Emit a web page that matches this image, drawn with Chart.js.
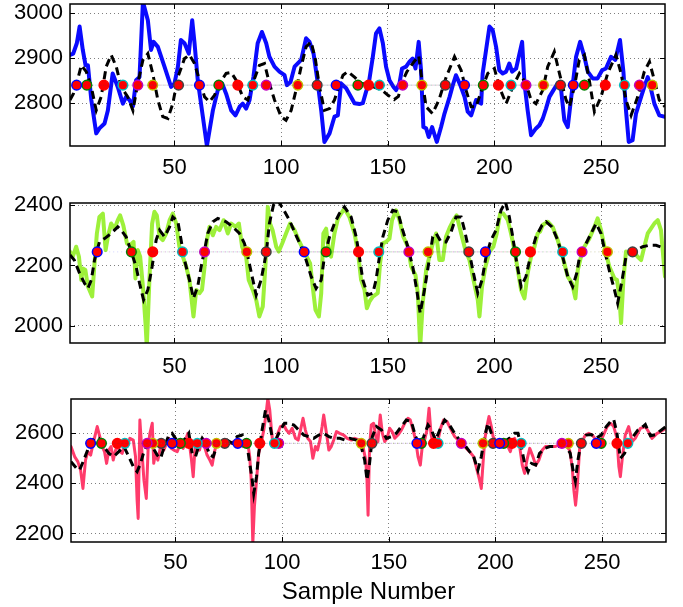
<!DOCTYPE html>
<html>
<head>
<meta charset="utf-8">
<title>Sample traces</title>
<script src="https://cdn.jsdelivr.net/npm/chart.js@4.4.1/dist/chart.umd.min.js"></script>
<style>
  html, body { margin: 0; padding: 0; background: #fff; }
  #wrap { position: relative; width: 683px; height: 607px; }
  #wrap canvas { position: absolute; left: 0; }
</style>
</head>
<body>
<div id="wrap">
  <canvas id="panelTop" width="683" height="190" style="top:0px"></canvas>
  <canvas id="panelMid" width="683" height="190" style="top:190px"></canvas>
  <canvas id="panelBot" width="683" height="227" style="top:380px"></canvas>
</div>
<script>
// shared sample axis
const xMin = 1;
const xMax = 280;
const xTicks = [50, 100, 150, 200, 250];

// --- top panel (blue) ---
const topTicks = [2800, 2900, 3000];
const topLineX = [
  1, 2.5, 4.2, 5.5, 7, 8.3, 9.4, 11, 13.3, 14.8,
  17.2, 18.75, 21, 23.4, 25.8, 27.3, 28.9, 30.5, 32, 33.6,
  35.2, 37.5, 39, 40.2, 42.2, 45.3, 48.4, 50, 51.6, 53,
  54.7, 56.7, 58.3, 59.4, 60.9, 63.3, 65.2, 68, 70.3, 72.3,
  74.2, 76.6, 78.6, 80.5, 82, 83.6, 85.2, 87, 89, 91,
  93, 94.5, 96.9, 99.2, 101.6, 102.7, 104.4, 106.3, 109.4, 111.7,
  113.3, 115.2, 117.2, 118.8, 120.3, 122.7, 125, 126.6, 128.1, 130.5,
  134.4, 136.7, 138.3, 139.8, 141.1, 143, 144.5, 146.1, 147.7, 149.2,
  150.8, 152.7, 153.9, 155.5, 156.7, 158.6, 160.2, 161.7, 163, 164.5,
  165.6, 166.7, 168, 169.2, 170.8, 173, 175, 176.6, 179, 180.5,
  182, 184, 186, 187.5, 189.1, 191.4, 193.8, 194.5, 196.1, 197.7,
  199.2, 200.8, 202.3, 203.9, 205.5, 207, 208.3, 210.2, 213, 214.1,
  215.6, 217.2, 219.5, 221.1, 222.7, 224.2, 225.8, 227.7, 229.7, 231.3,
  232.8, 234.4, 236.7, 238.3, 240.2, 242.2, 243.8, 246.1, 248.4, 250.5,
  252.3, 254.7, 256.7, 258.9, 260.5, 261.7, 263, 264.8, 266.4, 268.8,
  270.3, 271.9, 273, 275, 277.3, 280
];
const topLineY = [
  2907, 2910, 2933, 2970, 2918, 2884, 2884, 2807, 2733, 2744,
  2755, 2784, 2866, 2836, 2799, 2814, 2807, 2793, 2851, 2858,
  3025, 2984, 2918, 2936, 2925, 2881, 2836, 2844, 2881, 2940,
  2933, 2910, 2984, 2933, 2851, 2770, 2705, 2784, 2829, 2844,
  2821, 2784, 2773, 2792, 2799, 2788, 2807, 2858, 2933, 2958,
  2933, 2903, 2881, 2870, 2862, 2840, 2847, 2881, 2896, 2944,
  2936, 2910, 2844, 2784, 2714, 2733, 2770, 2773, 2844, 2833,
  2800, 2798, 2800, 2825, 2844, 2903, 2955, 2966, 2933, 2881,
  2851, 2836, 2829, 2844, 2877, 2881, 2892, 2899, 2877, 2936,
  2873, 2747, 2744, 2725, 2747, 2714, 2747, 2777, 2814, 2840,
  2862, 2840, 2814, 2781, 2773, 2807, 2799, 2866, 2918, 2970,
  2962, 2925, 2873, 2866, 2870, 2888, 2870, 2877, 2936, 2844,
  2784, 2729, 2744, 2751, 2766, 2788, 2814, 2829, 2844, 2829,
  2762, 2747, 2840, 2903, 2936, 2903, 2870, 2855, 2855, 2873,
  2877, 2903, 2896, 2940, 2870, 2784, 2714, 2718, 2777, 2814,
  2836, 2858, 2840, 2799, 2773, 2770
];
const topDashX = [
  1, 2.6, 4.9, 6.3, 8.6, 11, 13.3, 15.6, 18, 20.3,
  22.7, 25, 28.1, 30.5, 32.8, 35.2, 37.5, 39.8, 42.2, 44.5,
  46.9, 49.2, 51.6, 54.7, 57, 59.4, 61.7, 64.1, 66.4, 68.8,
  71.1, 74.2, 76.6, 78.9, 82, 84.4, 86.7, 89.8, 92.2, 94.5,
  96.9, 100, 102.3, 104.7, 107, 109.4, 111.7, 114.1, 116.1, 118,
  120.3, 122.7, 125, 127.3, 129, 131.2, 134.4, 137, 141, 147,
  150, 153, 155, 157, 159, 162, 164.5, 165.6, 168, 171,
  174, 177.4, 181.3, 184.4, 186.7, 189.1, 191.4, 194.5, 196.9, 200,
  202.3, 205.5, 208.6, 211.7, 214.8, 217.2, 219.5, 222.7, 225, 228.1,
  230.5, 233.6, 235.2, 237.5, 239.8, 242.2, 244.5, 246.9, 250, 253.1,
  257, 259.4, 261.7, 264.1, 267.2, 270.3, 272.7, 275, 277.3, 280
];
const topDashY = [
  2807, 2821, 2858, 2884, 2870, 2836, 2784, 2814, 2881, 2907,
  2881, 2836, 2814, 2784, 2844, 2896, 2910, 2866, 2807, 2770,
  2766, 2799, 2858, 2899, 2907, 2888, 2851, 2814, 2803, 2818,
  2844, 2866, 2868, 2851, 2814, 2807, 2844, 2884, 2888, 2844,
  2807, 2770, 2762, 2784, 2829, 2881, 2925, 2936, 2896, 2836,
  2784, 2788, 2807, 2840, 2862, 2870, 2858, 2845, 2840, 2830,
  2818, 2808, 2815, 2850, 2870, 2890, 2905, 2866, 2792, 2777,
  2807, 2858, 2903, 2873, 2829, 2792, 2792, 2836, 2866, 2877,
  2836, 2799, 2836, 2866, 2844, 2807, 2799, 2829, 2881, 2914,
  2866, 2807, 2792, 2836, 2896, 2907, 2851, 2781, 2814, 2866,
  2907, 2866, 2807, 2773, 2814, 2870, 2892, 2851, 2807, 2792
];
const topDotX = [
  4.1, 8.9, 16.9, 25.8, 32.8, 39.8, 51.9, 61.7, 70.8, 79.7,
  86.7, 93, 107.8, 116.9, 125.8, 136, 141, 146.1, 157, 166,
  177, 186, 194.8, 201.9, 207.8, 214.8, 223, 231, 237, 242.2,
  252, 261, 268, 274
];
const topDotLevel = 2840;

// --- middle panel (green) ---
const midTicks = [2000, 2200, 2400];
const midLineX = [
  1, 2.3, 3.9, 5.2, 6.3, 7, 8.2, 9.4, 11.4, 12.5,
  13.6, 14.8, 16.4, 17.7, 18.75, 20.3, 21.9, 23.4, 24.5, 26,
  27.7, 29.2, 30.8, 31.7, 32.8, 33.9, 35.2, 36.4, 37, 38.3,
  39.5, 40.6, 41.7, 43, 44.5, 46.1, 47.7, 49.2, 50.8, 52.3,
  53.9, 55.5, 57, 58.9, 60.2, 61.7, 62.9, 64.1, 65.2, 66.4,
  68, 69.5, 71.1, 73, 75, 76.6, 78.6, 80.2, 81.7, 83.6,
  84.8, 86.7, 88.3, 89.8, 91.4, 92.7, 93.75, 94.8, 96, 97.7,
  98.9, 100.5, 102.3, 104.2, 106.3, 108.6, 110.5, 112, 113.6, 114.8,
  116.1, 117.7, 118.8, 119.8, 121.1, 122.3, 123.4, 125, 126.6, 129.7,
  132, 134.4, 136, 137.5, 139.1, 140.2, 141.4, 143, 145.3, 146.4,
  147.7, 149.2, 150.8, 152, 153.9, 155.5, 157.3, 159.4, 161, 163,
  164.1, 165.2, 166.4, 168, 169.5, 171.1, 172.7, 174.2, 175.8, 177.3,
  179.2, 180.8, 182.3, 184.4, 186.4, 188.3, 190.2, 192.2, 193, 194.2,
  195.8, 197.7, 199.5, 201.1, 202.7, 204.2, 206.3, 207.8, 209.4, 211,
  212.5, 214.1, 215.6, 217.2, 218.8, 220.3, 221.4, 222.7, 225, 227.3,
  229.7, 232, 234.4, 236.4, 238, 239.1, 240.6, 242.2, 244.5, 246.9,
  248.4, 250, 251.6, 253.9, 256.3, 257.5, 258.6, 259.4, 260.5, 261.7,
  263.3, 265.2, 267.2, 268.8, 270.3, 271.9, 273.4, 275, 276.6, 278.1,
  280
];
const midLineY = [
  2246, 2229, 2262, 2229, 2152, 2190, 2185, 2130, 2097, 2207,
  2306, 2361, 2372, 2251, 2295, 2339, 2322, 2350, 2366, 2333,
  2273, 2267, 2278, 2157, 2251, 2229, 2130, 2009, 1930, 2163,
  2339, 2378, 2366, 2295, 2284, 2306, 2350, 2372, 2339, 2262,
  2229, 2196, 2152, 2031, 2119, 2108, 2119, 2196, 2284, 2328,
  2300, 2328, 2317, 2350, 2306, 2339, 2328, 2339, 2262, 2229,
  2152, 2119, 2086, 2031, 2064, 2207, 2394, 2339, 2317, 2262,
  2246, 2273, 2306, 2339, 2317, 2278, 2251, 2229, 2207, 2130,
  2053, 2031, 2108, 2306, 2322, 2251, 2229, 2306, 2355, 2389,
  2361, 2306, 2246, 2152, 2119, 2058, 2080, 2097, 2108, 2207,
  2273, 2278, 2289, 2350, 2383, 2350, 2295, 2262, 2196, 2168,
  2108, 1930, 2075, 2185, 2229, 2273, 2306, 2218, 2218, 2295,
  2328, 2350, 2366, 2306, 2251, 2218, 2152, 2086, 2031, 2130,
  2196, 2246, 2262, 2306, 2372, 2372, 2350, 2306, 2251, 2185,
  2119, 2091, 2174, 2229, 2262, 2306, 2312, 2334, 2345, 2328,
  2284, 2229, 2163, 2141, 2091, 2185, 2229, 2262, 2289, 2328,
  2356, 2317, 2262, 2196, 2157, 2152, 2097, 2009, 2152, 2246,
  2240, 2246, 2229, 2218, 2262, 2306, 2322, 2339, 2350, 2317,
  2163
];
const midDashX = [
  1, 3, 5.5, 7.8, 9.4, 11, 12.5, 14.8, 17.2, 20.3,
  23.4, 25, 27.3, 29.7, 32, 33.6, 35.5, 37.5, 39.5, 41.4,
  43, 45.3, 47.7, 49.2, 51.6, 53.1, 54.7, 57, 58.9, 60.9,
  62.5, 64.1, 65.6, 68, 70.3, 74.2, 77.3, 80.5, 82.8, 84.4,
  86.4, 88.3, 90.6, 93, 94.5, 96.4, 98.4, 100.8, 103.9, 107,
  109.4, 111.7, 114.1, 116.4, 118.8, 120.3, 122.7, 125, 127.3, 129.7,
  132.8, 135.2, 136.7, 138.3, 140.6, 143, 144.5, 146.1, 147.7, 150,
  152.3, 154.7, 157, 159.4, 161.7, 163.6, 165.2, 167.2, 169.2, 171.1,
  172.7, 175, 177.3, 179.7, 182, 184.4, 186, 188, 190.2, 192.2,
  194.2, 196.1, 198.4, 200.8, 203.1, 205.2, 207, 208.6, 210.5, 212.5,
  214.8, 217.2, 219.5, 222.4, 224.2, 227, 229.7, 232, 234.4, 236.7,
  238.6, 240.2, 243, 245.3, 247.7, 250, 252, 254.2, 256.3, 257.8,
  259.9, 261.7, 264.1, 266.4, 269.5, 272.7, 275.8, 280
];
const midDashY = [
  2235, 2218, 2174, 2141, 2124, 2152, 2218, 2278, 2289, 2306,
  2328, 2317, 2295, 2246, 2196, 2141, 2086, 2119, 2196, 2284,
  2317, 2295, 2328, 2361, 2345, 2284, 2218, 2152, 2091, 2130,
  2196, 2251, 2306, 2345, 2356, 2345, 2328, 2306, 2273, 2229,
  2163, 2102, 2152, 2240, 2339, 2400, 2416, 2389, 2350, 2300,
  2262, 2218, 2163, 2124, 2152, 2229, 2295, 2339, 2372, 2394,
  2361, 2295, 2229, 2152, 2102, 2108, 2152, 2229, 2295, 2350,
  2383, 2378, 2317, 2262, 2196, 2119, 2042, 2119, 2207, 2295,
  2306, 2278, 2278, 2311, 2361, 2361, 2317, 2251, 2174, 2108,
  2152, 2229, 2284, 2317, 2383, 2410, 2361, 2295, 2207, 2130,
  2163, 2240, 2295, 2334, 2345, 2328, 2284, 2229, 2163, 2130,
  2174, 2240, 2273, 2306, 2339, 2306, 2240, 2174, 2119, 2075,
  2152, 2229, 2240, 2251, 2262, 2267, 2267, 2256
];
const midDotX = [
  13.75, 29.8, 39.8, 53.75, 64.1, 83.9, 93, 110.8, 121.1, 136.3,
  145.8, 159.9, 168.9, 188, 195.8, 209.9, 216.9, 232, 241.1, 253,
  264.8
];
const midDotLevel = 2245;

// --- bottom panel (pink) ---
const botTicks = [2200, 2400, 2600];
const botLineX = [
  1, 2.7, 4.2, 5.5, 6.6, 7.8, 8.9, 10.2, 11.4, 13.3,
  14.5, 15.6, 16.7, 17.7, 18.75, 19.8, 20.8, 21.9, 23, 23.9,
  25, 26.1, 27.3, 28.6, 30.2, 31.25, 32, 32.5, 33.3, 34.1,
  35.2, 36.3, 37.2, 38, 39.1, 39.8, 40.6, 41.7, 43, 44.5,
  46.1, 46.9, 48, 49.2, 50.8, 52.3, 53.6, 54.7, 55.8, 56.7,
  57.5, 58.3, 59.2, 60.2, 61.25, 62.5, 63.6, 64.8, 66.1, 67.2,
  68.3, 69.5, 71.1, 72.7, 74.2, 75.8, 77.3, 78.9, 80.2, 81.7,
  82.8, 83.9, 84.8, 85.5, 86.25, 87, 88, 89, 90.2, 91.4,
  92.5, 93.3, 94.2, 95, 95.8, 96.9, 98, 99.2, 100.8, 102,
  103.3, 104.7, 106.25, 107.5, 108.6, 109.8, 110.9, 112, 113.3, 114.4,
  115.6, 116.6, 117.7, 118.75, 119.5, 120.8, 121.9, 123, 124.2, 125.5,
  127, 128.9, 130.5, 132.5, 134, 136.4, 137.9, 139.2, 139.8, 140.3,
  141, 141.8, 142.9, 143.9, 144.9, 146, 147, 148.1, 149.2, 150.4,
  151.6, 152.8, 154.3, 155.9, 157.5, 159, 160.1, 161.4, 162.6, 163.7,
  164.8, 165.7, 166.8, 167.9, 168.9, 169.8, 170.7, 171.9, 173.1, 174.3,
  175.7, 177.3, 178.9, 180.9, 183.2, 185.6, 187.9, 189.8, 191.4, 192.6,
  193.4, 194.2, 195, 196, 197, 198.1, 198.9, 200.1, 201.2, 202.3,
  203.5, 204.8, 205.9, 207, 208, 209, 210.1, 211.4, 212.6, 213.7,
  214.8, 216.1, 217.6, 218.9, 220.4, 222, 223.5, 225.4, 227.8, 230.1,
  231.7, 233.5, 234.8, 236, 236.8, 237.6, 238.3, 239.5, 240.6, 242.2,
  243.8, 245.5, 247.7, 249.2, 250.5, 252.4, 254, 255.5, 257, 257.9,
  258.6, 259.5, 260.9, 262.5, 264.1, 265.6, 268, 270.3, 271.9, 273.4,
  275.8, 277.6, 280
];
const botLineY = [
  2547, 2507, 2487, 2453, 2380, 2493, 2527, 2513, 2560, 2627,
  2587, 2547, 2527, 2480, 2533, 2547, 2493, 2533, 2553, 2527,
  2520, 2560, 2547, 2580, 2573, 2507, 2333, 2260, 2653, 2547,
  2413, 2340, 2547, 2600, 2640, 2480, 2520, 2493, 2547, 2533,
  2567, 2580, 2540, 2533, 2527, 2560, 2540, 2573, 2600, 2547,
  2493, 2427, 2547, 2547, 2533, 2580, 2547, 2513, 2493, 2473,
  2527, 2567, 2560, 2567, 2573, 2560, 2567, 2553, 2560, 2547,
  2553, 2560, 2507, 2413, 2160, 2307, 2413, 2520, 2560, 2613,
  2680, 2740, 2693, 2613, 2547, 2560, 2600, 2627, 2633, 2613,
  2600, 2620, 2580, 2573, 2613, 2660, 2613, 2580, 2567, 2500,
  2547, 2533, 2573, 2627, 2673, 2600, 2533, 2547, 2573, 2607,
  2600, 2593, 2580, 2573, 2580, 2573, 2547, 2493, 2413, 2273,
  2547, 2633, 2640, 2587, 2567, 2673, 2600, 2567, 2580, 2620,
  2607, 2580, 2593, 2613, 2640, 2660, 2653, 2613, 2573, 2507,
  2473, 2547, 2573, 2613, 2700, 2600, 2553, 2547, 2573, 2620,
  2653, 2647, 2620, 2587, 2567, 2547, 2527, 2507, 2453, 2413,
  2380, 2480, 2573, 2627, 2667, 2627, 2587, 2573, 2567, 2547,
  2553, 2567, 2547, 2527, 2560, 2580, 2553, 2547, 2473, 2440,
  2493, 2540, 2507, 2473, 2493, 2533, 2547, 2547, 2547, 2553,
  2560, 2547, 2533, 2467, 2373, 2313, 2373, 2540, 2567, 2593,
  2600, 2593, 2567, 2567, 2590, 2627, 2640, 2627, 2580, 2467,
  2427, 2500, 2593, 2627, 2567, 2580, 2620, 2627, 2605, 2580,
  2600, 2607, 2620
];
const botDashX = [
  1, 3.6, 5, 7, 9.4, 11.7, 14, 16.4, 18.75, 21,
  23.4, 25.8, 28.1, 30.2, 32, 33.6, 35.2, 36.7, 39.1, 41.4,
  43, 44.5, 46.9, 48.4, 50.5, 52.3, 54.7, 56.25, 57.8, 59.4,
  61, 62.5, 64.1, 66.1, 67.7, 69.5, 71.9, 74.2, 76.6, 78.9,
  81.25, 83.3, 84.8, 86, 86.7, 88, 89, 90.6, 92.2, 93.75,
  95.3, 97.3, 99.2, 101.1, 103.1, 105.5, 107.8, 110.2, 112.5, 114.8,
  117.2, 119.5, 121.9, 124.2, 127, 129.5, 131.7, 134.8, 137.1, 138.7,
  139.8, 141, 142.3, 144.2, 146.6, 148.9, 151.2, 153.5, 155.9, 158.2,
  160.6, 162.6, 164.5, 166.4, 168.4, 170, 172, 173.9, 176.2, 178.5,
  180.9, 183.2, 185.6, 187.9, 189.8, 191.8, 193.4, 194.95, 196.5, 198.1,
  199.7, 202, 204.3, 206.6, 209, 210.6, 212.1, 213.7, 215.3, 216.9,
  218.9, 220.7, 223.1, 225.5, 228.5, 230.9, 233.2, 235.1, 236.4, 237.5,
  238.7, 240.3, 242.6, 245, 247.3, 249.6, 252, 254.3, 255.5, 257,
  258.6, 260.6, 262.5, 264.8, 266.8, 269.2, 270.3, 272.7, 275.4, 277.3,
  280
];
const botDashY = [
  2487, 2460, 2453, 2493, 2547, 2580, 2580, 2547, 2520, 2507,
  2527, 2547, 2507, 2467, 2447, 2480, 2527, 2553, 2547, 2513,
  2500, 2540, 2593, 2600, 2573, 2560, 2580, 2600, 2520, 2507,
  2553, 2580, 2560, 2513, 2507, 2553, 2567, 2573, 2560, 2587,
  2593, 2567, 2480, 2413, 2360, 2427, 2520, 2613, 2693, 2653,
  2587, 2580, 2613, 2640, 2640, 2633, 2613, 2593, 2587, 2580,
  2593, 2600, 2587, 2580, 2580, 2573, 2580, 2573, 2547, 2493,
  2413, 2480, 2587, 2627, 2613, 2580, 2587, 2600, 2627, 2653,
  2647, 2587, 2553, 2587, 2633, 2613, 2573, 2613, 2653, 2633,
  2600, 2573, 2553, 2527, 2507, 2453, 2507, 2587, 2640, 2600,
  2567, 2560, 2567, 2580, 2600, 2600, 2547, 2480, 2447, 2480,
  2473, 2520, 2540, 2547, 2547, 2547, 2547, 2520, 2453, 2410,
  2493, 2567, 2593, 2595, 2580, 2593, 2627, 2650, 2655, 2600,
  2500, 2520, 2567, 2590, 2613, 2627, 2635, 2590, 2595, 2610,
  2627
];
const botDotX = [
  10.2, 15.3, 22.7, 26.25, 36.7, 39.4, 43.3, 48.4, 52.3, 56.25,
  60.2, 64.4, 69.2, 73.1, 79.2, 83.3, 89.5, 96.4, 98.4, 137.1,
  142.1, 163.2, 165.3, 171, 173.1, 184, 194.2, 198.9, 202, 203.9,
  207.8, 212.1, 231.2, 234.2, 240.3, 247.3, 249.6, 257, 262.1
];
const botDotLevel = 2560;

// marker edge colours cycle b, g, r, c, m, y, k
const edgeColors = ['#0000ff', '#008000', '#ff0000', '#00bfbf', '#bf00bf', '#bfbf00', '#404040'];
const edgeFaint = [
  'rgba(0,0,255,0.18)', 'rgba(0,128,0,0.18)', 'rgba(255,0,0,0.18)', 'rgba(0,191,191,0.18)',
  'rgba(191,0,191,0.18)', 'rgba(191,191,0,0.18)', 'rgba(64,64,64,0.18)'
];
const fontFamily = '"Liberation Sans", Arial, Helvetica, sans-serif';

function pairs(xs, ys) {
  return xs.map((x, i) => ({ x: x, y: ys[i] }));
}

// box round the plot area with inward tick marks
const framePlugin = {
  id: 'frame',
  afterDatasetsDraw(chart) {
    const { ctx, chartArea: a, scales } = chart;
    ctx.save();
    ctx.strokeStyle = '#000';
    ctx.lineWidth = 1;
    ctx.beginPath();
    scales.x.ticks.forEach(t => {
      const px = Math.round(scales.x.getPixelForValue(t.value)) + 0.5;
      ctx.moveTo(px, a.bottom); ctx.lineTo(px, a.bottom - 5);
      ctx.moveTo(px, a.top); ctx.lineTo(px, a.top + 5);
    });
    scales.y.ticks.forEach(t => {
      const py = Math.round(scales.y.getPixelForValue(t.value)) + 0.5;
      ctx.moveTo(a.left, py); ctx.lineTo(a.left + 5, py);
      ctx.moveTo(a.right, py); ctx.lineTo(a.right - 5, py);
    });
    ctx.stroke();
    ctx.lineWidth = 1.5;
    ctx.strokeRect(a.left, a.top, a.right - a.left, a.bottom - a.top);
    ctx.restore();
  }
};

function dotDatasets(dotX, level) {
  return edgeColors.map((c, k) => ({
    data: dotX.filter((_, i) => i % 7 === k).map(v => ({ x: v, y: level })),
    showLine: true,
    borderColor: edgeFaint[k],
    borderWidth: 1,
    borderDash: [1, 3],
    pointRadius: 4.8,
    pointBorderWidth: 1.5,
    pointBackgroundColor: '#ff0000',
    pointBorderColor: c,
    order: 0
  }));
}

function makePanel(id, p) {
  const canvas = document.getElementById(id);
  const h = canvas.height;
  const datasets = dotDatasets(p.dotX, p.dotLevel).concat([
    {
      data: pairs(p.dashX, p.dashY),
      borderColor: '#000',
      borderWidth: 3,
      borderDash: [8, 5],
      borderCapStyle: 'butt',
      pointRadius: 0,
      tension: 0,
      clip: 0,
      order: 1
    },
    {
      data: pairs(p.lineX, p.lineY),
      borderColor: p.color,
      borderWidth: p.width,
      borderJoinStyle: 'round',
      borderCapStyle: 'round',
      pointRadius: 0,
      tension: 0,
      clip: 0,
      order: 2
    }
  ]);

  return new Chart(canvas, {
    type: 'line',
    data: { datasets },
    plugins: [framePlugin],
    options: {
      responsive: false,
      animation: false,
      events: [],
      layout: {
        autoPadding: false,
        padding: { top: p.box.top, right: canvas.width - p.box.right, bottom: 0, left: 0 }
      },
      plugins: { legend: { display: false }, tooltip: { enabled: false } },
      scales: {
        x: {
          type: 'linear',
          min: xMin,
          max: xMax,
          afterBuildTicks: s => { s.ticks = xTicks.map(v => ({ value: v })); },
          afterFit: s => { s.height = h - p.box.bottom; s.paddingLeft = 0; s.paddingRight = 0; },
          grid: { color: 'rgba(0,0,0,0.5)', lineWidth: 1, drawTicks: false },
          border: { display: false, dash: [1, 3] },
          ticks: {
            padding: p.xPad,
            color: '#000',
            autoSkip: false,
            maxRotation: 0,
            font: { size: 22, family: fontFamily },
            callback: v => String(v)
          },
          title: {
            display: !!p.title,
            text: p.title || '',
            color: '#000',
            font: { size: 24, family: fontFamily },
            padding: { top: 0, bottom: 0 }
          }
        },
        y: {
          type: 'linear',
          min: p.yMin,
          max: p.yMax,
          afterBuildTicks: s => { s.ticks = p.yTicks.map(v => ({ value: v })); },
          afterFit: s => { s.width = p.box.left; s.paddingTop = 0; s.paddingBottom = 0; },
          grid: { color: 'rgba(0,0,0,0.5)', lineWidth: 1, drawTicks: false },
          border: { display: false, dash: [1, 3] },
          ticks: {
            padding: 7,
            color: '#000',
            autoSkip: false,
            font: { size: 22, family: fontFamily },
            callback: v => String(v)
          }
        }
      }
    }
  });
}

makePanel('panelTop', {
  lineX: topLineX, lineY: topLineY, color: '#0a0aff', width: 4,
  dashX: topDashX, dashY: topDashY,
  dotX: topDotX, dotLevel: topDotLevel,
  yMin: 2705, yMax: 3020, yTicks: topTicks,
  box: { left: 70, right: 665, top: 4, bottom: 146 },
  xPad: 9
});

makePanel('panelMid', {
  lineX: midLineX, lineY: midLineY, color: '#9df03a', width: 4,
  dashX: midDashX, dashY: midDashY,
  dotX: midDotX, dotLevel: midDotLevel,
  yMin: 1943, yMax: 2407, yTicks: midTicks,
  box: { left: 70, right: 665, top: 13, bottom: 153 },
  xPad: 11
});

makePanel('panelBot', {
  lineX: botLineX, lineY: botLineY, color: '#ff3b6b', width: 3,
  dashX: botDashX, dashY: botDashY,
  dotX: botDotX, dotLevel: botDotLevel,
  yMin: 2166, yMax: 2737, yTicks: botTicks,
  box: { left: 71, right: 666, top: 19, bottom: 162 },
  xPad: 8,
  title: 'Sample Number'
});
</script>
</body>
</html>
